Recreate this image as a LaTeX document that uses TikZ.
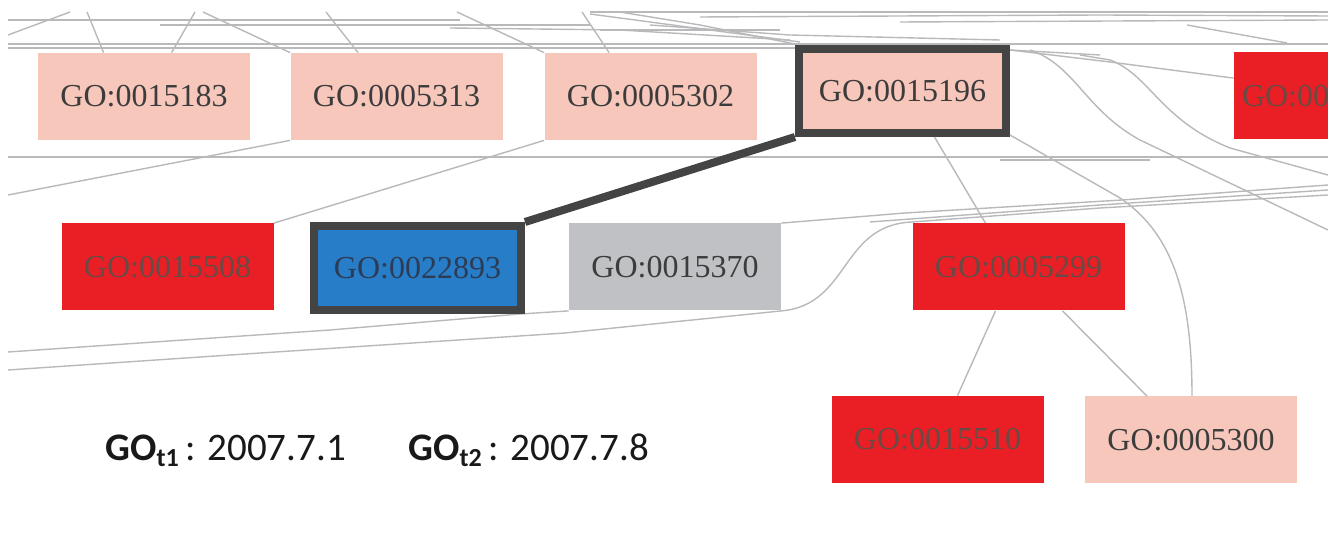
\documentclass[tikz,border=0pt]{standalone}
\usepackage{fontspec}
\setmainfont{Liberation Serif}
\newfontfamily\legendfont{Carlito}
\usetikzlibrary{calc}
\definecolor{gopink}{RGB}{247,199,187}
\definecolor{gored}{RGB}{234,30,37}
\definecolor{goblue}{RGB}{40,125,200}
\definecolor{gogray}{RGB}{192,193,196}
\definecolor{goborder}{RGB}{68,68,68}
\definecolor{edgegray}{RGB}{185,185,188}
\definecolor{txtdark}{RGB}{60,60,60}
\definecolor{txtred}{RGB}{105,75,70}
\definecolor{txtblue}{RGB}{45,60,85}
\definecolor{legendtxt}{RGB}{25,25,25}
\begin{document}
\begin{tikzpicture}[x=0.5pt,y=-0.5pt,
  gobox/.style={rectangle, inner sep=0pt, minimum width=106pt, minimum height=43.5pt,
    font=\fontsize{16}{18}\selectfont},
  pinkbox/.style={gobox, fill=gopink, text=txtdark},
  redbox/.style={gobox, fill=gored, text=txtred},
  graybox/.style={gobox, fill=gogray, text=txtdark},
  selbox/.style={gobox, draw=goborder, line width=4pt, minimum width=103.5pt, minimum height=42pt},
  edge/.style={draw=edgegray, line width=0.7pt},
  hl/.style={draw=goborder, line width=4pt},
  legend/.style={anchor=base west, inner sep=0pt, text=legendtxt,
    font=\legendfont\fontsize{19.5}{22}\selectfont}
]
\useasboundingbox (0,0) rectangle (1328,544);
\clip (0,0) rectangle (1328,544);
\fill[white] (0,0) rectangle (1328,544);

% ---------- nodes ----------
\node[pinkbox] (a1) at (144,96.5) {GO:0015183};
\node[pinkbox] (a2) at (396.5,96.5) {GO:0005313};
\node[pinkbox] (a3) at (650.5,96.5) {GO:0005302};
\node[redbox, text width=98pt, inner xsep=4pt, align=left] (a5) at (1340,96) {GO:00};

\node[redbox] (b1) at (167.5,267) {GO:0015508};
\node[graybox] (b3) at (675,267) {GO:0015370};
\node[redbox] (b4) at (1018.5,267) {GO:0005299};

\node[redbox] (c1) at (937.5,439.5) {GO:0015510};
\node[pinkbox] (c2) at (1191,440) {GO:0005300};

% ---------- background edges ----------
% top band
\draw[edge] (8,44) -- (1328,44);
\draw[edge] (8,48) -- (795,48);
\draw[edge] (8,20) -- (460,20);
\draw[edge] (160,25) -- (590,25);
\draw[edge] (450,28) -- (620,30) -- (790,40);
\draw[edge] (590,12) -- (1328,12);
\draw[edge] (700,17) -- (1100,15) -- (1328,16);
\draw[edge] (900,22) -- (1328,20);
\draw[edge] (590,14) -- (800,42);
\draw[edge] (620,12) -- (700,25) -- (800,45);
\draw[edge] (650,25) -- (790,35) -- (1000,40);
\draw[edge] (600,30) -- (780,30);
\draw[edge] (1187,25) -- (1287,43);
\draw[edge] (1010,50) -- (1100,55);
\draw[edge] (8,35) -- (70,12);
\draw[edge] (87,12) -- ($(a1.north west)+(66,0)$);
\draw[edge] (195,12) -- ($(a1.north west)+(134,0)$);
\draw[edge] (203,12) -- (a2.north west);
\draw[edge] (326,12) -- ($(a2.north west)+(68,0)$);
\draw[edge] (457,12) -- (a3.north west);
\draw[edge] (582,12) -- ($(a3.north west)+(65,0)$);

% between rows
\draw[edge] (8,157) -- (1328,157);
\draw[edge] (1000,160) -- (1150,160);
\draw[edge] (a2.south west) -- (8,195);
\draw[edge] (a3.south west) -- (b1.north east);
\draw[edge] (1030,50) .. controls (1075,65) and (1085,110) .. (1140,140) -- (1328,230);
\draw[edge] (1080,55) -- (1110,60) .. controls (1150,75) and (1160,120) .. (1230,148) -- (1328,175);
\draw[edge] ($(a5.north west)+(0,26)$) -- (1110,62) -- (1010,50);
\draw[edge] (b3.north east) -- (905,213) -- (1122,200) -- (1328,185);
\draw[edge] (870,222) -- (1100,205) -- (1328,190);

% below row 2
\draw[edge] (8,370) -- (230,355) -- (565,333) -- (b3.south east)
  .. controls (850,305) and (840,225) .. (912,222) -- (1100,208) -- (1328,195);
\draw[edge] (8,352) -- (330,330) -- (520,314) -- (b3.south west);

% ---------- highlighted pair ----------
\node[selbox, fill=gopink, text=txtdark] (a4) at (902.5,91) {GO:0015196};
\node[selbox, fill=goblue, text=txtblue] (b2) at (417.5,268) {GO:0022893};

% tree edges
\draw[edge] ($(a4.south)+(32,0)$) -- ($(b4.north)+(-33,0)$);
\draw[edge] ($(a4.south east)+(0,-2)$) -- (1120,198)
  .. controls (1175,235) and (1192,300) .. ($(c2.north)+(1,0)$);
\draw[edge] ($(b4.south)+(-23,0)$) -- ($(c1.north)+(20,0)$);
\draw[edge] ($(b4.south)+(44,0)$) -- ($(c2.north)+(-44,0)$);

\draw[hl] (a4.south west) -- (b2.north east);

% ---------- legend ----------
\node[legend] (t1) at (105,461)
  {\textbf{GO}\raisebox{-0.32ex}{\fontsize{13}{13}\selectfont\textbf{t1}}\,: 2007.7.1};
\node[legend] (t2) at (408,461)
  {\textbf{GO}\raisebox{-0.32ex}{\fontsize{13}{13}\selectfont\textbf{t2}}\,: 2007.7.8};
\end{tikzpicture}
\end{document}
